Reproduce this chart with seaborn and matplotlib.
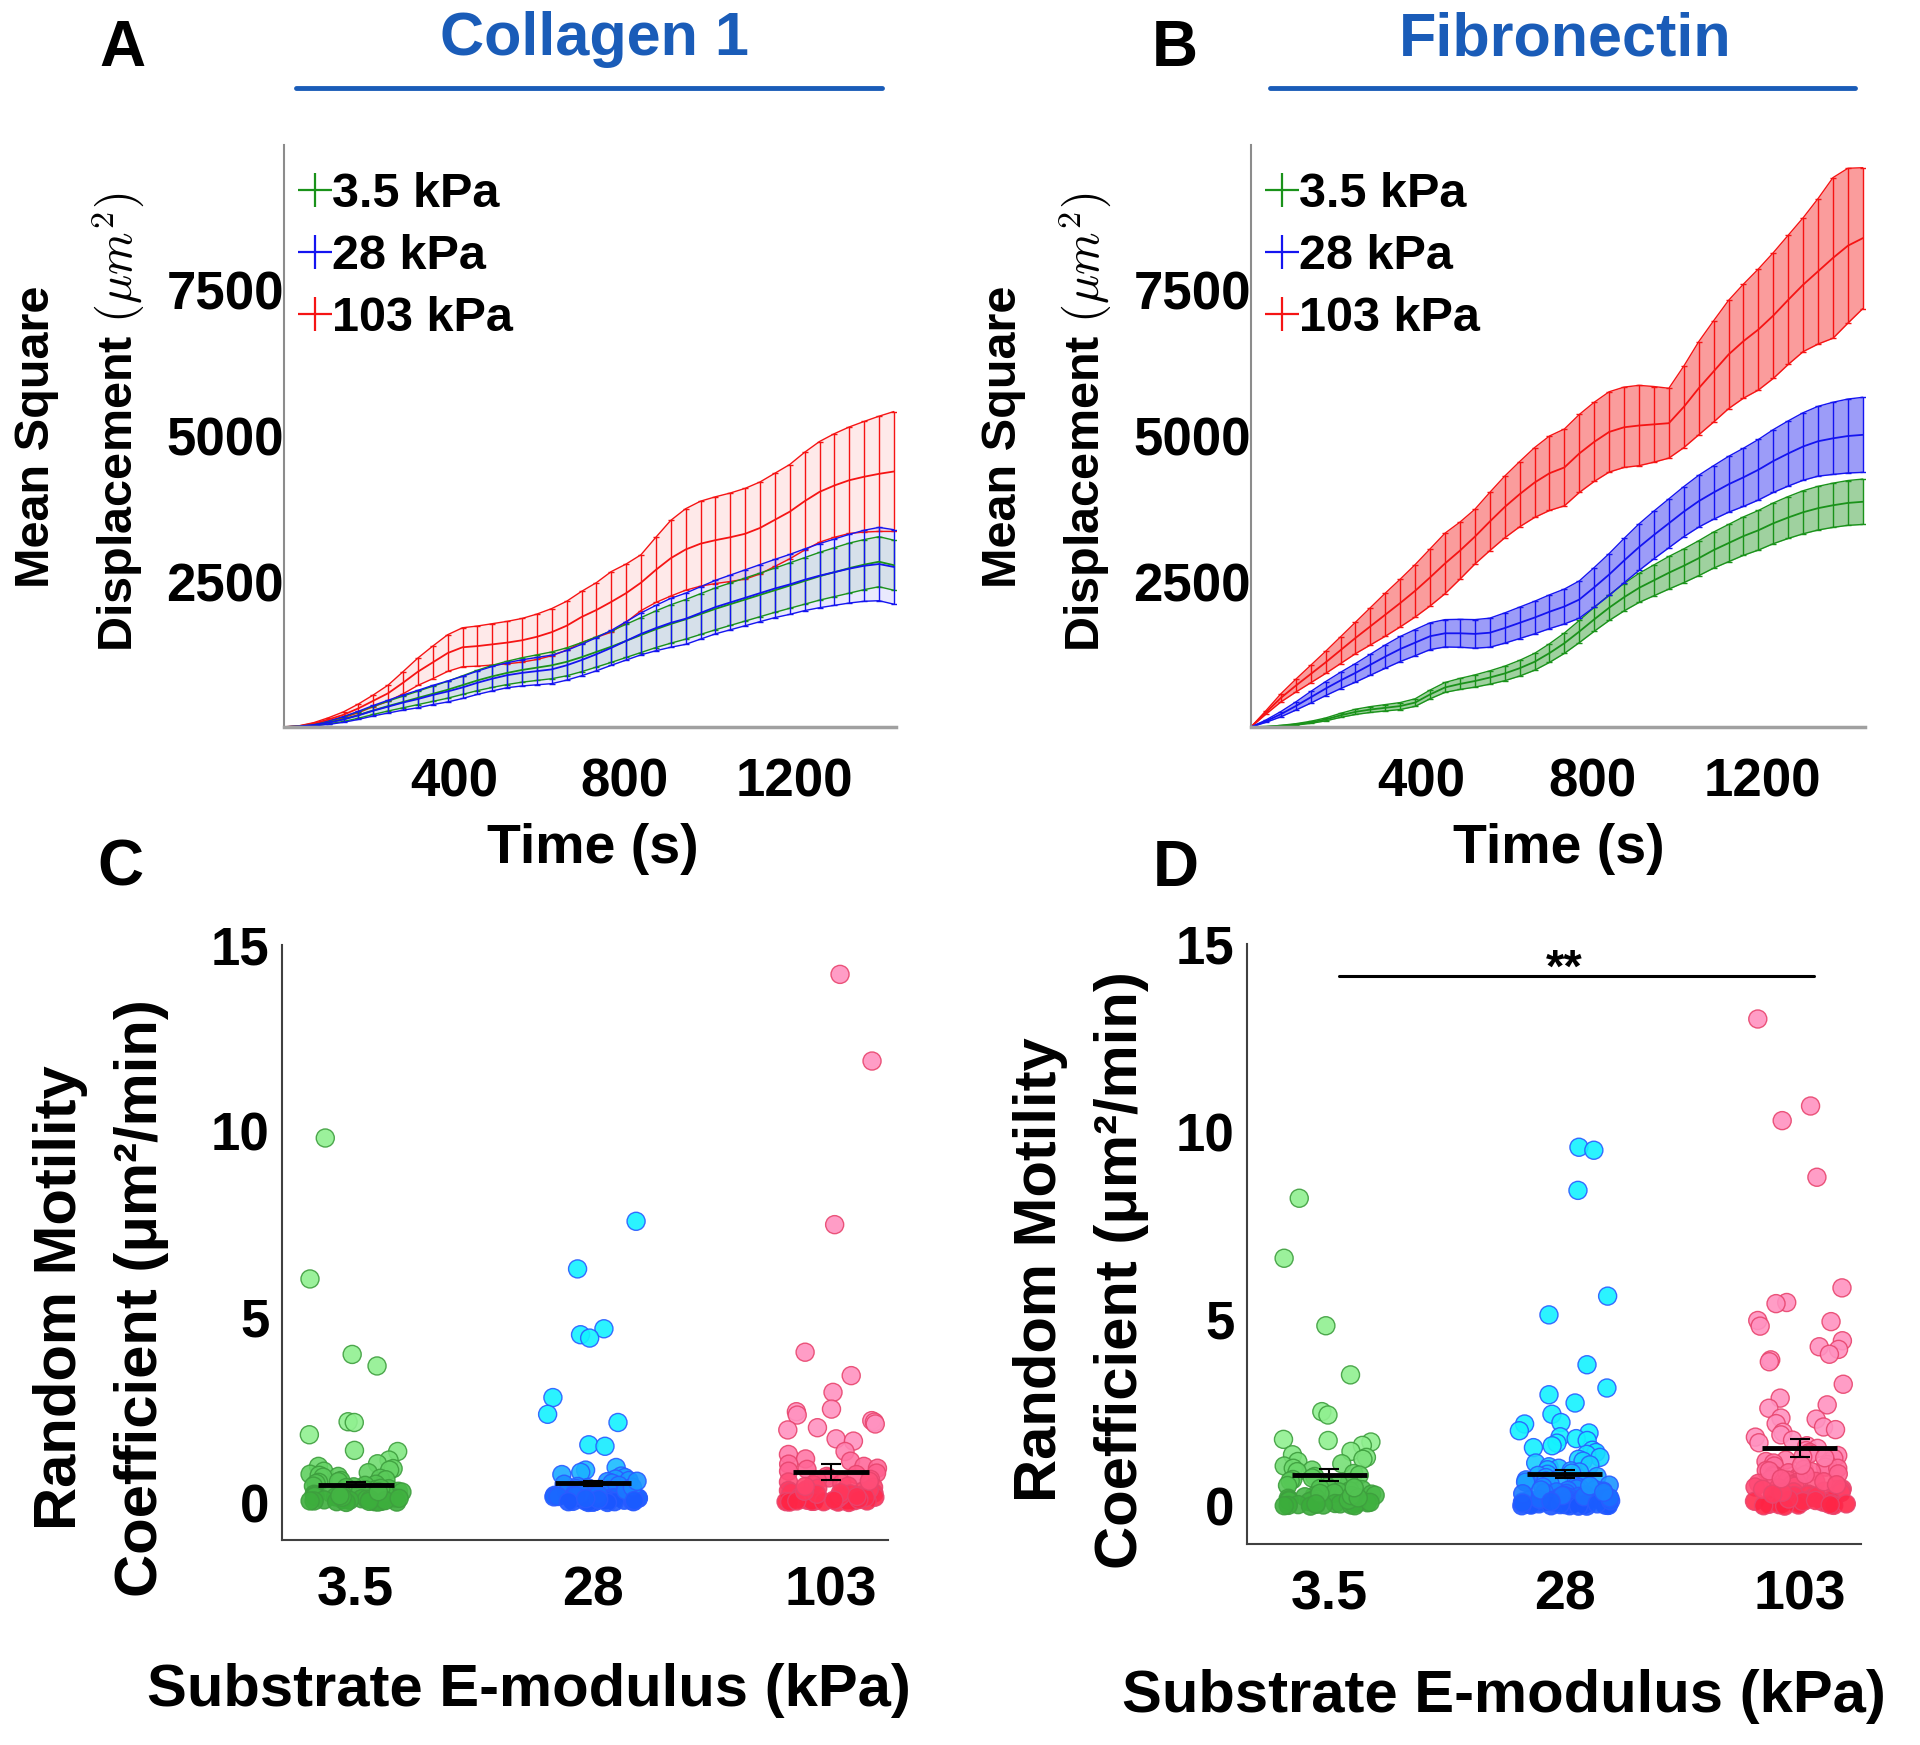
import numpy as np
import pandas as pd
import matplotlib
matplotlib.use('Agg')
import matplotlib.pyplot as plt
import seaborn as sns
from matplotlib.colors import LinearSegmentedColormap, Normalize
from matplotlib.lines import Line2D

sns.set_style('white')
plt.rcParams['font.family'] = ['Liberation Sans', 'DejaVu Sans']
plt.rcParams['font.weight'] = 'bold'
plt.rcParams['mathtext.fontset'] = 'cm'
for key in ['text.color', 'axes.labelcolor', 'xtick.labelcolor', 'ytick.labelcolor']:
    plt.rcParams[key] = 'black'

time_s = [0, 35, 70, 105, 140, 175, 210, 245, 280, 315, 350, 385, 420, 455,
          490, 525, 560, 595, 630, 665, 700, 735, 770, 805, 840, 875, 910, 945,
          980, 1015, 1050, 1085, 1120, 1155, 1190, 1225, 1260, 1295, 1330, 1365,
          1400, 1435]

col_soft_mean = [0, 10, 35, 80, 135, 205, 285, 360, 430, 500, 570, 640, 720, 800,
                 870, 930, 980, 1020, 1060, 1120, 1200, 1290, 1380, 1480, 1580, 1680,
                 1770, 1850, 1940, 2030, 2110, 2190, 2270, 2350, 2430, 2510, 2590,
                 2660, 2730, 2790, 2840, 2780]
col_soft_sem = [0, 5, 12, 25, 40, 55, 70, 85, 100, 115, 130, 145, 160, 175, 190,
                200, 210, 220, 230, 240, 250, 260, 270, 285, 300, 315, 330, 340, 350,
                360, 365, 370, 375, 380, 390, 400, 410, 420, 430, 430, 430, 430]
col_mid_mean = [0, 10, 35, 75, 130, 200, 280, 350, 420, 480, 550, 610, 680, 760,
                830, 890, 930, 960, 990, 1060, 1150, 1250, 1360, 1480, 1600, 1700,
                1790, 1860, 1960, 2060, 2140, 2220, 2300, 2380, 2450, 2530, 2600,
                2660, 2720, 2770, 2800, 2750]
col_mid_sem = [0, 5, 15, 30, 50, 70, 90, 110, 130, 150, 165, 180, 190, 200, 210,
               215, 225, 235, 245, 255, 270, 285, 300, 330, 360, 390, 420, 440, 450,
               460, 470, 480, 490, 500, 515, 530, 550, 570, 590, 610, 630, 640]
col_stiff_mean = [0, 15, 60, 130, 210, 320, 450, 580, 760, 950, 1110, 1270, 1370,
                  1390, 1420, 1450, 1490, 1550, 1630, 1740, 1890, 2010, 2150, 2300,
                  2480, 2700, 2900, 3050, 3150, 3210, 3260, 3320, 3420, 3560, 3700,
                  3880, 4040, 4150, 4240, 4300, 4350, 4390]
col_stiff_sem = [0, 5, 15, 30, 50, 75, 100, 140, 190, 235, 280, 315, 335, 345, 355,
                 365, 375, 390, 405, 420, 440, 470, 520, 500, 480, 560, 650, 700, 730,
                 745, 760, 780, 790, 800, 810, 840, 865, 890, 915, 950, 990, 1030]

fib_soft_mean = [0, 5, 20, 45, 80, 130, 200, 260, 300, 330, 360, 420, 560, 680,
                 740, 790, 850, 920, 1010, 1120, 1270, 1440, 1640, 1850, 2050, 2230,
                 2390, 2520, 2650, 2770, 2900, 3040, 3160, 3280, 3380, 3500, 3600,
                 3690, 3760, 3810, 3850, 3870]
fib_soft_sem = [0, 3, 8, 12, 18, 25, 35, 45, 50, 55, 60, 65, 75, 85, 95, 105, 115,
                125, 135, 145, 160, 175, 190, 205, 220, 235, 250, 265, 280, 290, 300,
                310, 320, 330, 340, 350, 360, 370, 375, 380, 385, 390]
fib_mid_mean = [0, 100, 220, 360, 510, 660, 800, 930, 1070, 1210, 1340, 1450, 1560,
                1610, 1610, 1600, 1620, 1700, 1790, 1880, 1980, 2070, 2190, 2400, 2620,
                2860, 3090, 3300, 3500, 3700, 3880, 4030, 4170, 4290, 4420, 4570, 4700,
                4820, 4910, 4960, 5000, 5020]
fib_mid_sem = [0, 20, 45, 70, 100, 120, 140, 160, 180, 200, 215, 225, 230, 235, 240,
               245, 250, 260, 270, 280, 290, 300, 320, 340, 360, 380, 400, 410, 420,
               430, 445, 460, 480, 500, 520, 540, 560, 580, 600, 620, 635, 645]
fib_stiff_mean = [0, 250, 500, 710, 910, 1110, 1320, 1530, 1730, 1930, 2130, 2340,
                  2570, 2810, 3030, 3270, 3530, 3780, 4000, 4200, 4360, 4460, 4700,
                  4900, 5070, 5150, 5180, 5200, 5220, 5500, 5820, 6110, 6400, 6630,
                  6830, 7070, 7340, 7600, 7830, 8060, 8270, 8400]
fib_stiff_sem = [0, 30, 70, 110, 150, 190, 230, 270, 320, 370, 410, 450, 490, 520,
                 490, 470, 500, 530, 560, 600, 640, 660, 670, 680, 690, 690, 690, 650,
                 600, 700, 800, 870, 930, 980, 1040, 1080, 1110, 1150, 1250, 1380,
                 1330, 1210]

legend_labels = ['3.5 kPa', '28 kPa', '103 kPa']
modulus_labels = ['3.5', '28', '103']

# ---- random motility coefficients (um^2/min), panels C and D ----
rmc_col_soft = [9.81, 6.02, 3.99, 3.68, 2.18, 2.16, 1.83, 1.41, 1.38, 1.15, 1.05, 0.98,
                0.92, 0.88, 0.85, 0.81, 0.77, 0.74, 0.71, 0.69, 0.66, 0.62, 0.6, 0.57,
                0.55, 0.52, 0.5, 0.47, 0.45, 0.43, 0.41, 0.38, 0.36, 0.35, 0.33, 0.31,
                0.29, 0.28, 0.26, 0.24, 0.23, 0.21, 0.2, 0.18, 0.17, 0.16, 0.14, 0.13,
                0.12, 0.11, 0.1, 0.09, 0.08, 0.07, 0.06, 0.05, 0.05, 0.04, 0.03, 0.03,
                0.02, 0.02, 0.01, 0.15, 0.27, 0.39, 0.09, 0.06, 0.04, 0.12, 0.19, 0.3]
rmc_col_mid = [7.57, 6.29, 4.68, 4.52, 4.43, 2.83, 2.38, 2.16, 1.56, 1.52, 0.95, 0.88,
               0.82, 0.76, 0.72, 0.68, 0.64, 0.6, 0.57, 0.53, 0.5, 0.47, 0.44, 0.41,
               0.38, 0.36, 0.34, 0.31, 0.29, 0.27, 0.25, 0.23, 0.21, 0.2, 0.18, 0.16,
               0.15, 0.14, 0.12, 0.11, 0.1, 0.09, 0.08, 0.07, 0.06, 0.05, 0.05, 0.04,
               0.04, 0.03, 0.03, 0.02, 0.02, 0.01, 0.01, 0.22, 0.13, 0.07, 0.33, 0.17,
               0.09, 0.26, 0.42, 0.19, 0.06, 0.03, 0.11, 0.58]
rmc_col_stiff = [14.21, 11.88, 7.48, 4.05, 3.42, 2.97, 2.52, 2.45, 2.36, 2.21, 2.17,
                 2.12, 2.02, 1.96, 1.72, 1.66, 1.38, 1.3, 1.18, 1.12, 1.04, 0.98, 0.93,
                 0.9, 0.85, 0.8, 0.76, 0.71, 0.67, 0.63, 0.6, 0.56, 0.52, 0.49, 0.45,
                 0.42, 0.39, 0.36, 0.33, 0.3, 0.28, 0.26, 0.24, 0.22, 0.2, 0.18, 0.16,
                 0.15, 0.13, 0.12, 0.1, 0.09, 0.08, 0.07, 0.06, 0.05, 0.04, 0.04, 0.03,
                 0.03, 0.02, 0.02, 0.01, 0.11, 0.19, 0.27, 0.35, 0.07, 0.14, 0.23, 0.05,
                 0.31, 0.09, 0.44, 0.17, 0.58]
rmc_fib_soft = [8.22, 6.62, 4.82, 3.51, 2.53, 2.44, 1.79, 1.76, 1.72, 1.63, 1.47, 1.38,
                1.31, 1.26, 1.2, 1.14, 1.08, 1.02, 0.97, 0.93, 0.88, 0.84, 0.8, 0.76,
                0.72, 0.68, 0.64, 0.6, 0.56, 0.52, 0.48, 0.45, 0.42, 0.39, 0.36, 0.33,
                0.3, 0.28, 0.26, 0.24, 0.22, 0.2, 0.18, 0.16, 0.15, 0.13, 0.12, 0.1,
                0.09, 0.08, 0.07, 0.06, 0.05, 0.04, 0.04, 0.03, 0.02, 0.02, 0.01, 0.17,
                0.29, 0.11, 0.35, 0.07, 0.23, 0.5]
rmc_fib_mid = [9.58, 9.5, 8.43, 5.61, 5.11, 3.78, 3.16, 2.98, 2.76, 2.46, 2.24, 2.2,
               2.02, 1.96, 1.86, 1.81, 1.76, 1.69, 1.62, 1.57, 1.5, 1.44, 1.39, 1.31,
               1.26, 1.21, 1.16, 1.11, 1.06, 1.02, 0.98, 0.95, 0.92, 0.89, 0.86, 0.83,
               0.8, 0.77, 0.74, 0.71, 0.68, 0.65, 0.62, 0.6, 0.57, 0.54, 0.52, 0.5,
               0.47, 0.45, 0.43, 0.41, 0.39, 0.37, 0.35, 0.33, 0.31, 0.3, 0.28, 0.27,
               0.25, 0.24, 0.22, 0.21, 0.2, 0.18, 0.17, 0.16, 0.15, 0.14, 0.13, 0.12,
               0.11, 0.1, 0.09, 0.08, 0.08, 0.07, 0.06, 0.06, 0.05, 0.05, 0.04, 0.04,
               0.03, 0.03, 0.02, 0.02, 0.02, 0.01, 0.01, 0.12, 0.19, 0.26, 0.34, 0.07,
               0.15, 0.44, 0.09, 0.23, 0.55, 0.05, 0.29, 0.38, 0.13]
rmc_fib_stiff = [13.0, 10.68, 10.29, 8.78, 5.83, 5.44, 5.41, 4.96, 4.93, 4.81, 4.42,
                 4.26, 4.19, 4.06, 3.91, 3.86, 3.26, 2.89, 2.71, 2.62, 2.36, 2.33, 2.21,
                 2.12, 2.05, 1.98, 1.91, 1.85, 1.77, 1.7, 1.62, 1.55, 1.49, 1.44, 1.4,
                 1.36, 1.32, 1.28, 1.24, 1.2, 1.16, 1.12, 1.08, 1.05, 1.02, 0.99, 0.96,
                 0.93, 0.9, 0.87, 0.84, 0.81, 0.78, 0.75, 0.72, 0.7, 0.67, 0.64, 0.62,
                 0.59, 0.57, 0.54, 0.52, 0.5, 0.47, 0.45, 0.43, 0.41, 0.39, 0.37, 0.35,
                 0.33, 0.31, 0.29, 0.27, 0.26, 0.24, 0.22, 0.21, 0.19, 0.18, 0.16, 0.15,
                 0.14, 0.12, 0.11, 0.1, 0.09, 0.08, 0.07, 0.06, 0.05, 0.04, 0.03, 0.02,
                 0.01, 0.13, 0.28, 0.46, 0.66, 0.85, 1.1, 0.2, 0.38, 0.58, 0.07, 0.95,
                 0.33, 0.16, 1.3, 0.05, 0.74]

# group mean +/- SEM markers as shown
rmc_col_mean = [0.49, 0.52, 0.83]
rmc_col_sem = [0.07, 0.06, 0.22]
rmc_fib_mean = [0.83, 0.87, 1.56]
rmc_fib_sem = [0.16, 0.10, 0.24]

curve_colors = ['#1a921a', '#1414f0', '#f51414']
point_cmaps = [LinearSegmentedColormap.from_list('g', ['#3aac3a', '#62d262', '#90f090']),
               LinearSegmentedColormap.from_list('b', ['#1a55ff', '#1ab0ff', '#14f2ff']),
               LinearSegmentedColormap.from_list('r', ['#ff2242', '#ff6090', '#ff92c0'])]
point_edges = ['#3e9e3e', '#2a5cff', '#e8456e']
title_blue = '#1a5cb8'

W, H = 1920, 1745
fig = plt.figure(figsize=(W / 100, H / 100), dpi=100, facecolor='white')


def px_axes(l, t, r, b):
    return fig.add_axes([l / W, 1 - b / H, (r - l) / W, (b - t) / H])


def msd_panel(ax, curves, fill_alpha):
    # red first, then green, blue on top
    for k in [2, 0, 1]:
        mean = np.array(curves[k][0])
        sem = np.array(curves[k][1])
        c = curve_colors[k]
        ax.fill_between(time_s, mean - sem, mean + sem, color=c, alpha=fill_alpha, lw=0)
        ax.plot(time_s, mean + sem, color=c, lw=1)
        ax.plot(time_s, mean - sem, color=c, lw=1)
        ax.errorbar(time_s, mean, yerr=sem, color=c, lw=1.3, elinewidth=1,
                    capsize=2, capthick=1)
    ax.set_xlim(0, 1440)
    ax.set_ylim(0, 10000)
    ax.set_xticks([400, 800, 1200])
    ax.set_yticks([2500, 5000, 7500])
    ax.tick_params(axis='both', direction='in', length=5, width=1, color='#808080',
                   labelsize=38)
    ax.tick_params(axis='x', pad=22)
    ax.tick_params(axis='y', pad=0)
    sns.despine(ax=ax)
    ax.spines['left'].set_color('#8c8c8c')
    ax.spines['left'].set_linewidth(1.5)
    ax.spines['bottom'].set_color('#a0a0a0')
    ax.spines['bottom'].set_linewidth(2.5)
    handles = [Line2D([], [], color=c, marker='+', markersize=24, mew=1.6,
                      linestyle='None') for c in curve_colors]
    ax.legend(handles, legend_labels, loc='upper left', bbox_to_anchor=(-0.028, 1.012),
              frameon=False, handlelength=0.6, handletextpad=0.05, labelspacing=0.35,
              borderaxespad=0.3, prop={'size': 35, 'weight': 'bold'})


def motility_panel(ax, groups, means, sems, xlim):
    df = pd.DataFrame({
        'modulus': np.repeat(modulus_labels, [len(g) for g in groups]),
        'rmc': np.concatenate(groups),
    })
    np.random.seed(11)
    sns.stripplot(data=df, x='modulus', y='rmc', order=modulus_labels, jitter=0.2,
                  size=13, linewidth=1, color='gray', ax=ax, zorder=2)
    norm = Normalize(0, 1.6)
    for coll in ax.collections:
        off = coll.get_offsets()
        if len(off) == 0:
            continue
        k = int(round(np.mean(off[:, 0])))
        coll.set_facecolor(point_cmaps[k](norm(off[:, 1])))
        coll.set_edgecolor(point_edges[k])
        coll.set_alpha(0.9)
    xs = np.arange(3)
    ax.hlines(means, xs - 0.16, xs + 0.16, color='black', lw=3.5, zorder=5)
    ax.errorbar(xs, means, yerr=sems, fmt='none', ecolor='black', elinewidth=1.5,
                capsize=7, capthick=1.5, zorder=5)
    ax.set_xlim(*xlim)
    ax.set_ylim(-1, 15)
    ax.set_yticks([0, 5, 10, 15])
    ax.set_xlabel('')
    ax.set_ylabel('')
    ax.tick_params(axis='y', direction='in', length=5, width=1, color='#404040',
                   labelsize=38, pad=9)
    ax.tick_params(axis='x', length=0, labelsize=40, pad=18)
    sns.despine(ax=ax)
    for s in ['left', 'bottom']:
        ax.spines[s].set_color('#404040')
        ax.spines[s].set_linewidth(1.5)


ax_a = px_axes(284, 145, 896, 727)
msd_panel(ax_a, [(col_soft_mean, col_soft_sem), (col_mid_mean, col_mid_sem),
                 (col_stiff_mean, col_stiff_sem)], 0.09)
ax_b = px_axes(1251, 145, 1865, 727)
msd_panel(ax_b, [(fib_soft_mean, fib_soft_sem), (fib_mid_mean, fib_mid_sem),
                 (fib_stiff_mean, fib_stiff_sem)], 0.42)

ax_c = px_axes(282, 945, 888, 1540)
motility_panel(ax_c, [rmc_col_soft, rmc_col_mid, rmc_col_stiff], rmc_col_mean,
               rmc_col_sem, (-0.31, 2.24))
ax_d = px_axes(1247, 944, 1861, 1544)
motility_panel(ax_d, [rmc_fib_soft, rmc_fib_mid, rmc_fib_stiff], rmc_fib_mean,
               rmc_fib_sem, (-0.35, 2.26))

# significance bar in D
ax_d.plot([0.04, 2.06], [14.15, 14.15], color='black', lw=2.2)
ax_d.text(1.0, 14.0, '**', ha='center', va='baseline', fontsize=34, fontweight='bold')

# panel letters and titles
for letter, x, y in [('A', 122, 49), ('B', 1175, 49), ('C', 120, 869), ('D', 1176, 869)]:
    fig.text(x / W, 1 - y / H, letter, ha='center', va='center', fontsize=46,
             fontweight='bold')
for title, x, l, r in [('Collagen 1', 594, 296, 882), ('Fibronectin', 1565, 1270, 1855)]:
    fig.text(x / W, 1 - 40 / H, title, ha='center', va='center', fontsize=44,
             fontweight='bold', color=title_blue)
    fig.add_artist(Line2D([l / W, r / W], [1 - 88 / H, 1 - 88 / H], color=title_blue,
                          lw=3.5, transform=fig.transFigure))

# axis labels
for x0 in [0, 967]:
    fig.text((x0 + 37) / W, 1 - 437 / H, 'Mean Square', rotation=90, ha='center',
             va='center', fontsize=35, fontweight='bold')
    fig.text((x0 + 118) / W, 1 - 422 / H, 'Displacement $(\\mu m^2)$', rotation=90,
             ha='center', va='center', fontsize=35, fontweight='bold')
for x in [593, 1559]:
    fig.text(x / W, 1 - 849 / H, 'Time (s)', ha='center', va='center', fontsize=40,
             fontweight='bold')
for x, y in [(101, 1298), (1081, 1270)]:
    fig.text(x / W, 1 - y / H, 'Random Motility\nCoefficient (\u03bcm\u00b2/min)',
             rotation=90, ha='center', va='center', multialignment='center',
             fontsize=43, fontweight='bold', linespacing=1.6)
for x, y in [(529, 1690), (1504, 1696)]:
    fig.text(x / W, 1 - y / H, 'Substrate E-modulus (kPa)', ha='center', va='center',
             fontsize=43, fontweight='bold')

fig.savefig('out.png', dpi=100, facecolor='white')
